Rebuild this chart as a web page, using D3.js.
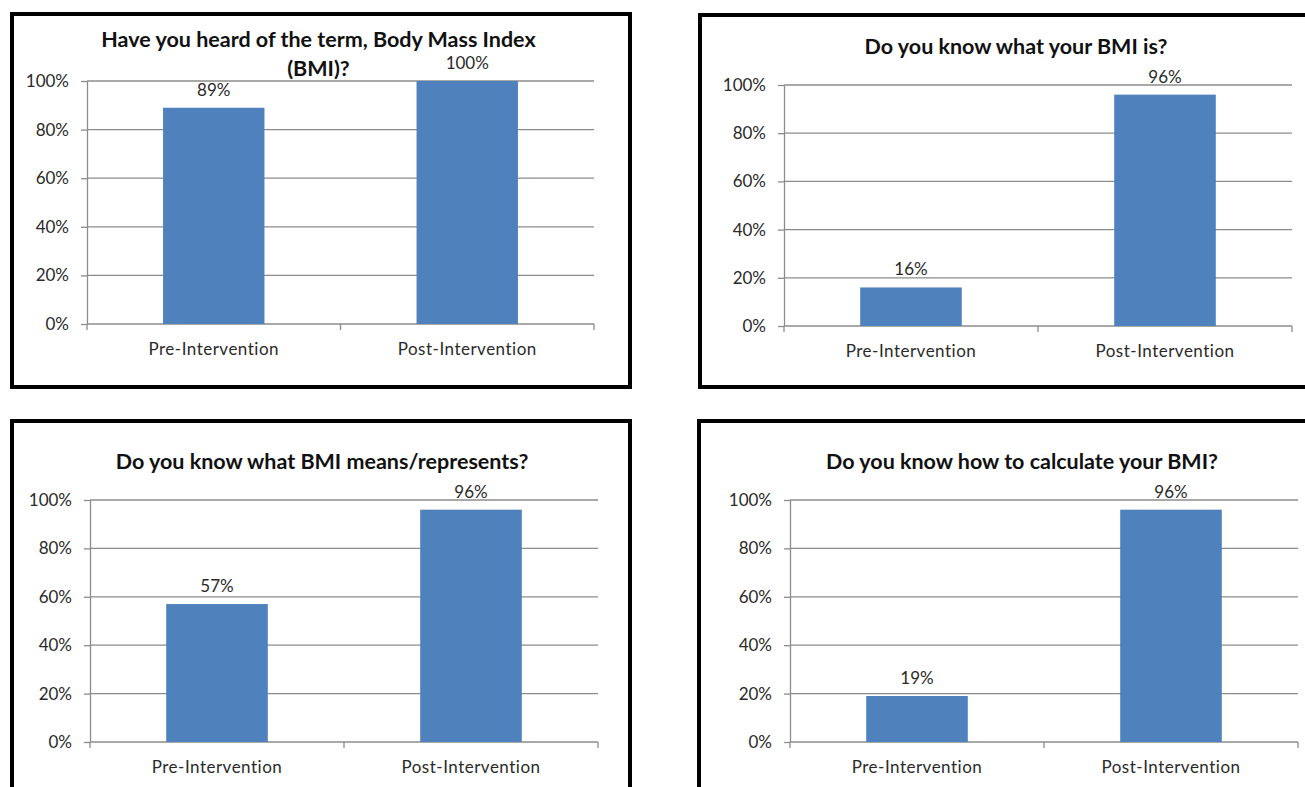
<!DOCTYPE html>
<meta charset="UTF-8">

<head>
    <script src="https://d3js.org/d3.v7.min.js"></script>
    <style>
        body {
            margin: 0;
            background: #fff;
        }

        .frame {
            fill: none;
            stroke: #000;
            stroke-width: 4px;
        }

        .grid line {
            stroke: #8c8c8c;
            stroke-width: 1.3px;
        }

        .axis path,
        .axis line {
            stroke: #8c8c8c;
            stroke-width: 1.3px;
        }

        .axis text {
            font: 17px Lato, sans-serif;
            fill: #2a2a2a;
        }

        .axis text.cat {
            letter-spacing: 0.5px;
        }

        .bar {
            fill: #4f81bd;
        }

        .value {
            font: 17px Lato, sans-serif;
            fill: #2a2a2a;
        }

        .title {
            font: bold 21.5px Lato, sans-serif;
            fill: #111;
        }
    </style>
</head>

<body>

    <script>
        var categories = ["Pre-Intervention", "Post-Intervention"];
        var yTicks = [0, 20, 40, 60, 80, 100];

        var titleHeard = ["Have you heard of the term, Body Mass Index", "(BMI)?"];
        var titleKnow = ["Do you know what your BMI is?"];
        var titleMeans = ["Do you know what BMI means/represents?"];
        var titleCalc = ["Do you know how to calculate your BMI?"];

        var heardValues = [89, 100];
        var knowValues = [16, 96];
        var meansValues = [57, 96];
        var calcValues = [19, 96];

        // where each chart sits on the page (frame + plot area)
        var panels = [
            { title: titleHeard, values: heardValues, frame: [12, 14, 618, 373], plot: { left: 87, right: 594, top: 81, bottom: 324 }, titleY: 47 },
            { title: titleKnow, values: knowValues, frame: [700, 15, 640, 372], plot: { left: 784, right: 1292, top: 85, bottom: 326 }, titleY: 54 },
            { title: titleMeans, values: meansValues, frame: [12, 421, 618, 400], plot: { left: 90, right: 598, top: 500, bottom: 742 }, titleY: 469 },
            { title: titleCalc, values: calcValues, frame: [699, 421, 640, 400], plot: { left: 790, right: 1298, top: 500, bottom: 742 }, titleY: 469 }
        ];

        var svg = d3
            .select("body")
            .append("svg")
            .attr("width", 1305)
            .attr("height", 787);

        panels.forEach(function (p) {
            var g = svg.append("g");

            g.append("rect")
                .attr("class", "frame")
                .attr("x", p.frame[0])
                .attr("y", p.frame[1])
                .attr("width", p.frame[2])
                .attr("height", p.frame[3]);

            var x = d3.scaleBand()
                .domain(categories)
                .range([p.plot.left, p.plot.right])
                .paddingInner(0.6)
                .paddingOuter(0.3);

            var y = d3.scaleLinear()
                .domain([0, 100])
                .range([p.plot.bottom, p.plot.top]);

            // horizontal gridlines
            g.append("g")
                .attr("class", "grid")
                .selectAll("line")
                .data(yTicks.slice(1))
                .enter()
                .append("line")
                .attr("x1", p.plot.left)
                .attr("x2", p.plot.right)
                .attr("y1", function (d) { return y(d); })
                .attr("y2", function (d) { return y(d); });

            // y axis
            g.append("g")
                .attr("class", "axis")
                .attr("transform", "translate(" + p.plot.left + ",0)")
                .call(d3.axisLeft(y)
                    .tickValues(yTicks)
                    .tickFormat(function (d) { return d + "%"; })
                    .tickSize(6)
                    .tickSizeOuter(0)
                    .tickPadding(12));

            // x axis, ticks sit between the categories
            var xAxis = g.append("g")
                .attr("class", "axis")
                .attr("transform", "translate(0," + p.plot.bottom + ")");
            xAxis.append("line")
                .attr("x1", p.plot.left)
                .attr("x2", p.plot.right);
            var step = (p.plot.right - p.plot.left) / categories.length;
            xAxis.selectAll("line.tick")
                .data(d3.range(categories.length + 1))
                .enter()
                .append("line")
                .attr("class", "tick")
                .attr("x1", function (i) { return p.plot.left + i * step; })
                .attr("x2", function (i) { return p.plot.left + i * step; })
                .attr("y2", 6);
            xAxis.selectAll("text")
                .data(categories)
                .enter()
                .append("text")
                .attr("class", "cat")
                .attr("x", function (d) { return x(d) + x.bandwidth() / 2; })
                .attr("y", 31)
                .attr("text-anchor", "middle")
                .text(function (d) { return d; });

            // bars
            g.selectAll("rect.bar")
                .data(p.values)
                .enter()
                .append("rect")
                .attr("class", "bar")
                .attr("x", function (d, i) { return x(categories[i]); })
                .attr("width", x.bandwidth())
                .attr("y", function (d) { return y(d); })
                .attr("height", function (d) { return p.plot.bottom - y(d); });

            // value labels
            g.selectAll("text.value")
                .data(p.values)
                .enter()
                .append("text")
                .attr("class", "value")
                .attr("x", function (d, i) { return x(categories[i]) + x.bandwidth() / 2; })
                .attr("y", function (d) { return y(d) - 12; })
                .attr("text-anchor", "middle")
                .text(function (d) { return d + "%"; });

            // title, one text per line
            g.selectAll("text.title")
                .data(p.title)
                .enter()
                .append("text")
                .attr("class", "title")
                .attr("text-anchor", "middle")
                .attr("x", (p.plot.left + p.plot.right) / 2 - 22)
                .attr("y", function (d, i) { return p.titleY + i * 29; })
                .text(function (d) { return d; });
        });
    </script>

</body>
